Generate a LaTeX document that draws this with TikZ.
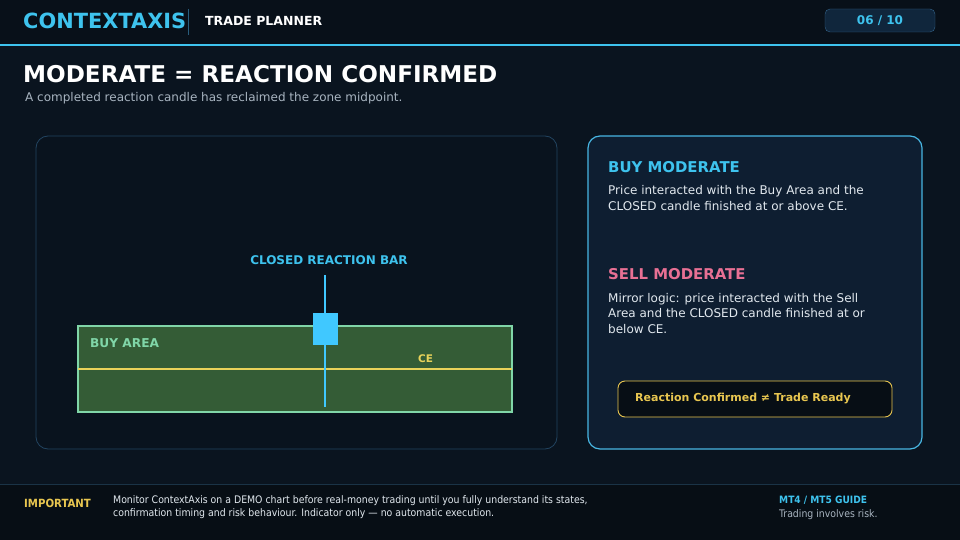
\documentclass[tikz,border=0pt]{standalone}
\usepackage{fontspec}
\setmainfont{DejaVu Sans}
\newfontfamily\condfont{DejaVu Sans Condensed}
\definecolor{bgmain}{RGB}{10,20,31}
\definecolor{bghead}{RGB}{8,16,25}
\definecolor{bgfoot}{RGB}{7,14,21}
\definecolor{cyanA}{RGB}{62,195,238}
\definecolor{candle}{RGB}{64,200,255}
\definecolor{paneledge}{RGB}{34,68,96}
\definecolor{panelfill}{RGB}{9,19,30}
\definecolor{rpanelfill}{RGB}{14,30,49}
\definecolor{rpaneledge}{RGB}{72,182,226}
\definecolor{zonefill}{RGB}{52,92,54}
\definecolor{zoneedge}{RGB}{128,214,168}
\definecolor{ceyellow}{RGB}{232,210,90}
\definecolor{pinkA}{RGB}{232,112,148}
\definecolor{subgray}{RGB}{168,180,192}
\definecolor{goldA}{RGB}{232,198,80}
\definecolor{badgefill}{RGB}{16,38,60}
\definecolor{badgeedge}{RGB}{52,100,138}
\definecolor{footline}{RGB}{26,51,70}
\definecolor{bodytext}{RGB}{225,232,238}
\tikzset{
  lbl/.style={inner sep=0pt, anchor=west},
  headtxt/.style={lbl, font=\bfseries},
}
\begin{document}
\begin{tikzpicture}[x=1pt,y=-1pt]
\useasboundingbox (0,0) rectangle (960,540);
% backgrounds
\fill[bgmain] (0,0) rectangle (960,540);
\fill[bghead] (0,0) rectangle (960,45);
\fill[bgfoot] (0,484) rectangle (960,540);
\draw[cyanA, line width=2pt] (0,45.5) -- (960,45.5);
\draw[footline, line width=1pt] (0,484) -- (960,484);
% header
\node[headtxt, text=cyanA, font=\fontsize{20.9}{24}\selectfont\bfseries] (brand) at (23,21) {CONTEXTAXIS};
\draw[paneledge!80!cyanA, line width=0.8pt] (188,9) -- (188,35);
\node[headtxt, text=white, font=\fontsize{12.5}{14}\selectfont\bfseries] (planner) at (205,21) {TRADE PLANNER};
\node[draw=badgeedge, fill=badgefill, rounded corners=5pt, minimum width=110pt, minimum height=23pt, inner sep=0pt, text=cyanA, font=\fontsize{12}{14}\selectfont\bfseries] (badge) at (880,20.5) {06 / 10};
% title
\node[headtxt, text=white, font=\fontsize{23.1}{27}\selectfont\bfseries] (title) at (23,74) {MODERATE = REACTION CONFIRMED};
\node[lbl, text=subgray, font=\fontsize{12}{14}\selectfont] (subtitle) at (25,98) {A completed reaction candle has reclaimed the zone midpoint.};
% left panel
\draw[paneledge, fill=panelfill, rounded corners=12pt, line width=0.8pt] (36,136) rectangle (557,449);
% zone
\draw[zoneedge, fill=zonefill, line width=1.2pt] (78,326) rectangle (512,412);
\draw[ceyellow, line width=1.5pt] (78,369) -- (512,369);
\node[headtxt, text=zoneedge, font=\fontsize{12.2}{14}\selectfont\bfseries] (buyarea) at (90,343) {BUY AREA};
\node[headtxt, text=ceyellow, font=\fontsize{10.5}{12}\selectfont\bfseries] (ce) at (418,359) {CE};
% candle
\coordinate (wtop) at (325,275);
\coordinate (wbot) at (325,407);
\draw[candle, line width=2.2pt] (wtop) -- (wbot);
\fill[candle] (313,313) rectangle (338,345);
\node[inner sep=0pt, text=cyanA, font=\fontsize{12}{14}\selectfont\bfseries] (barlbl) at (329,260) {CLOSED REACTION BAR};
% right panel
\draw[rpaneledge, fill=rpanelfill, rounded corners=12pt, line width=1.2pt] (588,136) rectangle (922,449);
\node[headtxt, text=cyanA, font=\fontsize{14.9}{17}\selectfont\bfseries] (buymod) at (608,167) {BUY MODERATE};
\node[lbl, text=bodytext, font=\fontsize{12}{16}\selectfont, align=left, anchor=north west] (buytxt) at (608,185.5) {Price interacted with the Buy Area and the\\CLOSED candle finished at or above CE.};
\node[headtxt, text=pinkA, font=\fontsize{14.9}{17}\selectfont\bfseries] (sellmod) at (608,274) {SELL MODERATE};
\node[lbl, text=bodytext, font=\fontsize{12}{15.5}\selectfont, align=left, anchor=north west] (selltxt) at (608,293) {Mirror logic: price interacted with the Sell\\Area and the CLOSED candle finished at or\\below CE.};
\draw[goldA, fill=bgfoot, rounded corners=7pt, line width=0.9pt] (618,381) rectangle (892,417);
\node[headtxt, text=goldA, font=\fontsize{11}{13}\selectfont\bfseries] (warn) at (635,398.5) {Reaction Confirmed ≠ Trade Ready};
% footer
\node[headtxt, text=goldA, font=\condfont\fontsize{11.3}{13}\selectfont\bfseries] (imp) at (24,503) {IMPORTANT};
\node[lbl, text=bodytext, font=\condfont\fontsize{10.4}{12.5}\selectfont, align=left, anchor=north west] (foottxt) at (113,495.5) {Monitor ContextAxis on a DEMO chart before real-money trading until you fully understand its states,\\confirmation timing and risk behaviour. Indicator only — no automatic execution.};
\node[headtxt, text=cyanA, font=\condfont\fontsize{10.1}{12}\selectfont\bfseries] (mt) at (779,500) {MT4 / MT5 GUIDE};
\node[lbl, text=subgray, font=\condfont\fontsize{10.4}{12}\selectfont] (risk) at (779,514.5) {Trading involves risk.};
\end{tikzpicture}
\end{document}
